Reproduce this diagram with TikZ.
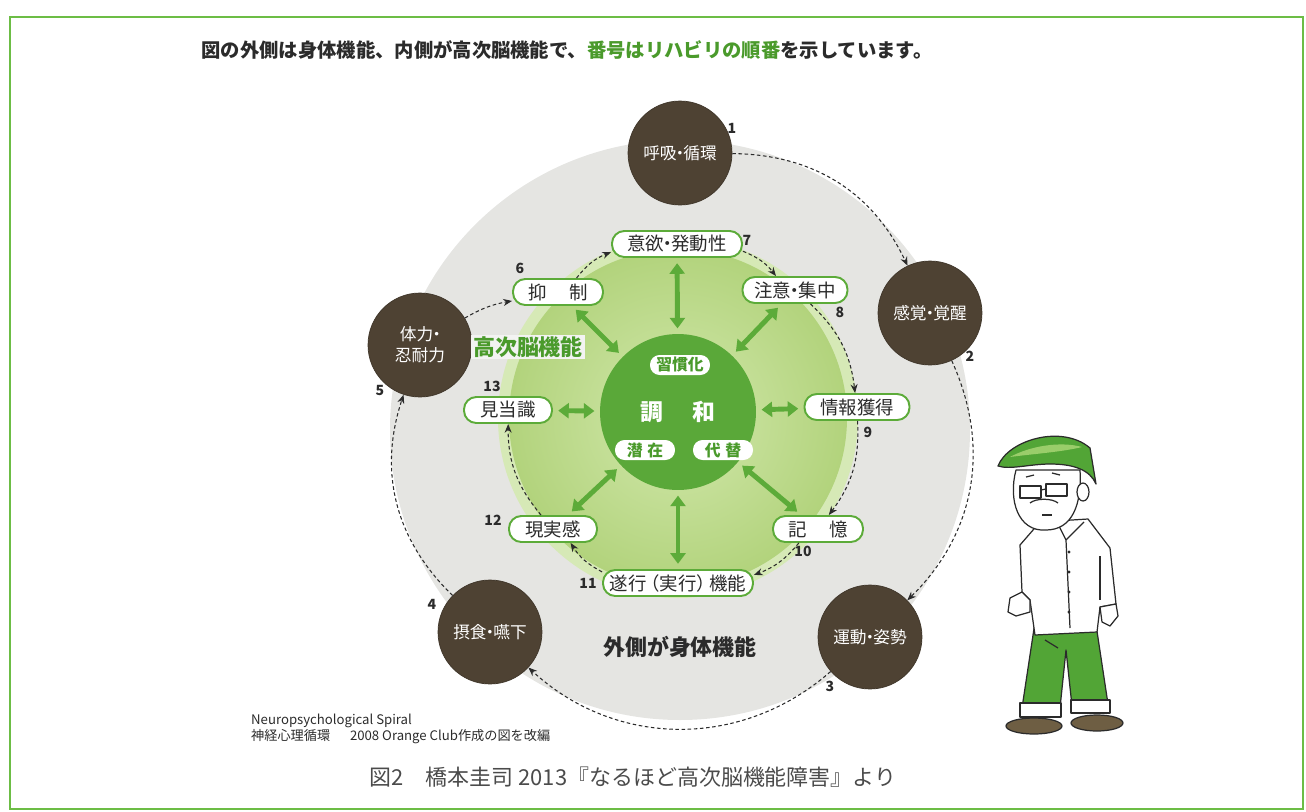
\documentclass[tikz,border=0pt]{standalone}
\usepackage{fontspec}
\setmainfont{Noto Sans CJK JP}
\usetikzlibrary{arrows.meta, positioning, calc}
\definecolor{ink}{HTML}{2B2B2B}
\definecolor{bark}{HTML}{4E4233}
\definecolor{mist}{HTML}{E5E5E2}
\definecolor{paleleaf}{HTML}{D6E9B6}
\definecolor{leafin}{HTML}{D2E8AC}
\definecolor{leafout}{HTML}{B2D37C}
\definecolor{leafcore}{HTML}{5AA839}
\definecolor{leaf}{HTML}{5CAB39}
\definecolor{leafdk}{HTML}{4A9A2B}
\definecolor{frame}{HTML}{6CBD45}
\definecolor{pants}{HTML}{52A536}
\definecolor{capstripe}{HTML}{9ACD6A}
\definecolor{shoe}{HTML}{6E5E43}
% narrow middle dot between words
\newcommand{\ndot}{\kern-0.3em・\kern-0.3em}

\begin{document}
\begin{tikzpicture}[x=0.02cm, y=-0.02cm,
  every node/.style={text=ink, font=\fontsize{10}{12}\selectfont},
  body/.style={circle, fill=bark, draw=bark!80!black, minimum size=2.08cm,
    inner sep=1pt, align=center, text=white, font=\fontsize{9.5}{12}\selectfont},
  brain/.style={rounded corners=7pt, draw=leaf, line width=1.1pt, fill=white,
    minimum height=0.52cm, inner sep=2pt, font=\fontsize{10.5}{12}\selectfont},
  pill/.style={rounded corners=5.5pt, fill=white, text=leafdk, minimum height=0.4cm,
    minimum width=1.2cm, inner sep=1pt, font=\bfseries\fontsize{9}{10}\selectfont},
  num/.style={text=ink, font=\bfseries\fontsize{8}{9}\selectfont},
  flow/.style={draw=ink, line width=0.6pt, dash pattern=on 2pt off 1.5pt,
    -{Stealth[length=5pt, width=4pt]}},
  duo/.style={draw=leaf, line width=2.8pt, shorten <=3pt, shorten >=3pt,
    {Triangle[length=6pt, width=8.5pt]}-{Triangle[length=6pt, width=8.5pt]}},
]
\useasboundingbox (0,0) rectangle (1306,812);

% frame
\draw[frame, line width=1.6pt] (10,17) rectangle (1303,809);

% heading
\node[font=\bfseries\fontsize{11}{13}\selectfont] (head) at (567,50)
  {図の外側は身体機能、内側が高次脳機能で、\textcolor{leafdk}{番号はリハビリの順番}を示しています。};

% discs
\fill[mist] (680,430) circle[radius=290];
\fill[paleleaf] (678,418) circle[radius=180];
\shade[inner color=leafin, outer color=leafout] (678,418) circle[radius=169];

% outer ring: body functions
\node[body] (kokyu)    at (680,153) {呼吸\ndot 循環};
\node[body] (kankaku)  at (930,313) {感覚\ndot 覚醒};
\node[body] (undo)     at (870,637) {運動\ndot 姿勢};
\node[body] (sesshoku) at (490,632) {摂食\ndot 嚥下};
\node[body] (tairyoku) at (420,345) {体力\ndot\\忍耐力};

% inner ring: higher brain functions
\node[brain, minimum width=2.6cm]  (iyoku)    at (677,244) {意欲\ndot 発動性};
\node[brain, minimum width=2.1cm]  (chui)     at (795,290) {注意\ndot 集中};
\node[brain, minimum width=2.1cm]  (joho)     at (857,407) {情報獲得};
\node[brain, minimum width=1.8cm]  (kioku)    at (818,529) {記\hspace{1.2em}憶};
\node[brain, minimum width=3.0cm]  (suiko)    at (678,583) {遂行\kern-0.3em（実行）\kern-0.3em 機能};
\node[brain, minimum width=1.76cm] (genjitsu) at (553,529) {現実感};
\node[brain, minimum width=1.76cm] (kento)    at (508,410) {見当識};
\node[brain, minimum width=1.8cm]  (yokusei)  at (558,292) {抑\hspace{1.2em}制};

% centre
\node[circle, fill=leafcore, minimum size=3.12cm, text=white,
  font=\bfseries\fontsize{13}{15}\selectfont] (core) at (678,412) {調\hspace{1.3em}和};
\node[pill] (habit) at (680,365) {習慣化};
\node[pill] (latent) at (645,450) {潜\hspace{0.3em}在};
\node[pill] (subst) at (723,450) {代\hspace{0.3em}替};

\foreach \n in {iyoku,chui,joho,kioku,suiko,genjitsu,kento,yokusei}
  \draw[duo] (core) -- (\n);

% order of rehabilitation
\draw[flow] (kokyu) to[bend left=32] (kankaku);
\draw[flow] (kankaku) to[bend left=35] (undo);
\draw[flow] (undo) to[bend left=42] (sesshoku);
\draw[flow] (sesshoku) to[bend left=32] (tairyoku);
\draw[flow] (tairyoku) to[bend left=10] (yokusei);
\draw[flow] (yokusei) to[bend left=15] (iyoku);
\draw[flow] (iyoku) to[bend left=15] (chui);
\draw[flow] (chui) to[bend left=20] (joho);
\draw[flow] (joho) to[bend left=20] (kioku);
\draw[flow] (kioku) to[bend left=15] (suiko);
\draw[flow] (suiko) to[bend left=15] (genjitsu);
\draw[flow] (genjitsu) to[bend left=20] (kento);

% step numbers
\node[num] at (732,128) {1};
\node[num] at (970,356) {2};
\node[num] at (830,686) {3};
\node[num] at (432,604) {4};
\node[num] at (380,390) {5};
\node[num] at (520,268) {6};
\node[num] at (747,240) {7};
\node[num] at (840,312) {8};
\node[num] at (868,432) {9};
\node[num] at (803,551) {10};
\node[num] at (588,583) {11};
\node[num] at (493,520) {12};
\node[num] at (492,386) {13};

% ring titles
\node[fill=white!55!mist, inner sep=1pt, text=leafdk,
  font=\bfseries\fontsize{12.5}{14}\selectfont] (brainlbl) at (528,347) {高次脳機能};
\node[font=\bfseries\fontsize{12.5}{14}\selectfont] (bodylbl) at (680,647) {外側が身体機能};

% source and caption
\node[anchor=west, align=left, font=\fontsize{7.5}{9}\selectfont] (src) at (245,729)
  {Neuropsychological Spiral\\神経心理循環\hspace{1.5em}2008 Orange Club作成の図を改編};
\node[text=ink!85, font=\fontsize{12.5}{14}\selectfont] (cap) at (633,777)
  {図2\hspace{1em}橋本圭司 2013『なるほど高次脳機能障害』より};

% the man on the right
\begin{scope}[draw=ink, line width=0.7pt, line join=round]
  % shoes
  \filldraw[fill=shoe] (1034,726) ellipse[x radius=28, y radius=8];
  \filldraw[fill=shoe] (1097,723) ellipse[x radius=26, y radius=8];
  % trousers
  \filldraw[fill=pants] (1035,622) -- (1095,618) -- (1108,704) -- (1072,706)
    -- (1066,650) -- (1060,708) -- (1022,708) -- cycle;
  \draw (1045,640) -- (1058,648);
  \filldraw[fill=white] (1020,703) rectangle (1061,717);
  \filldraw[fill=white] (1071,700) rectangle (1110,713);
  % shirt
  \filldraw[fill=white] (1040,522) -- (1088,519) -- (1110,548) -- (1116,604)
    -- (1100,607) -- (1097,632) -- (1035,635) -- (1030,600) -- (1022,592)
    -- (1020,545) -- cycle;
  \draw (1058,524) -- (1066,540) -- (1070,628);
  \draw (1066,540) -- (1084,522);
  \draw (1100,556) -- (1100,600);
  \foreach \y in {552,572,592,612}
    \fill[ink] (1069,\y) circle[radius=1.6];
  % hands
  \filldraw[fill=white] (1022,592) -- (1010,598) -- (1008,612) -- (1016,616)
    -- (1030,612) -- (1030,600) -- cycle;
  \filldraw[fill=white] (1116,604) -- (1100,607) -- (1102,622) -- (1110,626)
    -- (1118,616) -- cycle;
  % head
  \filldraw[fill=white] (1016,470) .. controls (1008,500) and (1018,532) .. (1046,530)
    .. controls (1072,530) and (1082,505) .. (1080,470) -- cycle;
  \filldraw[fill=white] (1083,492) ellipse[x radius=6, y radius=9];
  % cap
  \filldraw[fill=pants] (998,466) .. controls (1008,440) and (1062,424) .. (1090,448)
    -- (1096,484) .. controls (1090,470) and (1074,464) .. (1050,464)
    .. controls (1030,464) and (1010,470) .. cycle;
  \fill[capstripe] (1010,457) .. controls (1030,446) and (1060,441) .. (1082,447)
    .. controls (1062,452) and (1032,454) .. cycle;
  % face
  \draw (1020,486) rectangle (1041,498);
  \draw (1046,484) rectangle (1067,496);
  \draw (1041,490) -- (1046,489);
  \draw (1026,477) -- (1034,475);
  \draw (1052,473) -- (1060,475);
  \draw (1030,503) .. controls (1036,498) and (1052,498) .. (1058,503);
  \draw (1042,515) -- (1052,515);
\end{scope}
\end{tikzpicture}
\end{document}
